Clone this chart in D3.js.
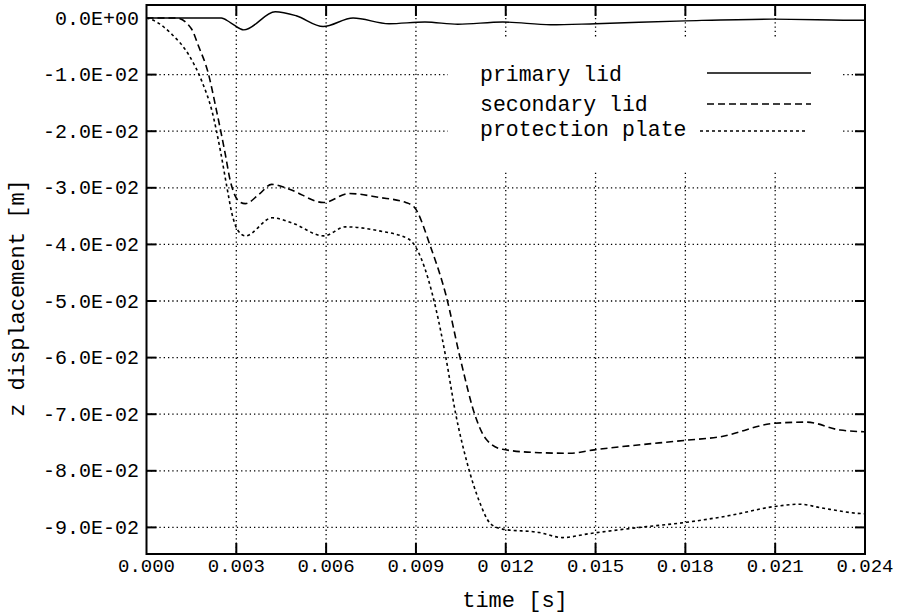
<!DOCTYPE html>
<html>
<head>
<meta charset="utf-8">
<script src="https://cdn.jsdelivr.net/npm/d3@7"></script>
<style>
  body { margin: 0; background: #fff; }
  text { font-family: "Liberation Mono", "DejaVu Sans Mono", monospace; fill: #000; }
</style>
</head>
<body>
<div id="chart"></div>
<script>
// axis ticks and labels
const timeTicks = [0, 0.003, 0.006, 0.009, 0.012, 0.015, 0.018, 0.021, 0.024];
const timeLabels = ["0.000", "0.003", "0.006", "0.009", "0 012", "0.015", "0.018", "0.021", "0.024"];
const dispTicks = [0, -0.01, -0.02, -0.03, -0.04, -0.05, -0.06, -0.07, -0.08, -0.09];
const dispLabels = ["0.0E+00", "-1.0E-02", "-2.0E-02", "-3.0E-02", "-4.0E-02",
                    "-5.0E-02", "-6.0E-02", "-7.0E-02", "-8.0E-02", "-9.0E-02"];

const seriesNames = ["primary lid", "secondary lid", "protection plate"];

// [time s, z displacement m]
const primaryLid = [
  [0, 0], [0.0025, 0], [0.0028, -0.0008], [0.00325, -0.0021], [0.0043, 0.0011],
  [0.0050, 0.0004], [0.0059, -0.0015], [0.0069, 0], [0.0081, -0.0010], [0.0093, -0.0007],
  [0.0104, -0.0011], [0.0119, -0.0007], [0.0135, -0.0012], [0.0150, -0.0010],
  [0.0180, -0.0005], [0.0209, -0.0002], [0.0239, -0.0004], [0.024, -0.0004]
];
const secondaryLid = [
  [0, 0], [0.0010, 0], [0.0015, -0.0019], [0.00174, -0.0050], [0.00205, -0.0095],
  [0.00234, -0.0164], [0.00263, -0.0240], [0.00280, -0.0288], [0.00295, -0.0313],
  [0.00312, -0.0325], [0.00330, -0.0328], [0.00375, -0.0312], [0.00418, -0.0294],
  [0.00475, -0.0302], [0.00592, -0.0326], [0.00676, -0.0310], [0.00777, -0.0317],
  [0.00866, -0.0326], [0.00894, -0.0334], [0.00950, -0.0406], [0.01000, -0.0489],
  [0.01050, -0.0606], [0.01100, -0.0706], [0.01134, -0.0744], [0.01189, -0.0762],
  [0.01312, -0.0768], [0.01413, -0.0769], [0.01496, -0.0763], [0.01803, -0.0746],
  [0.01915, -0.0740], [0.02099, -0.0716], [0.02205, -0.0714], [0.02317, -0.0728],
  [0.02400, -0.0731]
];
const protectionPlate = [
  [0, 0], [0.00018, -0.0003], [0.00085, -0.0029], [0.00141, -0.0065], [0.00185, -0.0112],
  [0.00219, -0.0165], [0.00247, -0.0235], [0.00269, -0.0300], [0.00286, -0.0347],
  [0.00305, -0.0375], [0.00330, -0.0385], [0.00420, -0.0353], [0.00486, -0.0362],
  [0.00592, -0.0385], [0.00665, -0.0369], [0.00777, -0.0376], [0.00877, -0.0391],
  [0.00916, -0.0423], [0.00966, -0.0512], [0.01000, -0.0600], [0.01033, -0.0700],
  [0.01072, -0.0788], [0.01111, -0.0853], [0.01150, -0.0894], [0.01189, -0.0903],
  [0.01312, -0.0909], [0.01390, -0.0918], [0.01479, -0.0911], [0.01647, -0.0900],
  [0.01803, -0.0891], [0.01948, -0.0879], [0.02099, -0.0863], [0.02183, -0.0859],
  [0.02249, -0.0865], [0.02372, -0.0875], [0.02400, -0.0876]
];

(function () {
  const width = 901, height = 616;
  const pl = 146.5, pr = 865, pt = 5, pb = 554;   // plot frame edges

  const svg = d3.select("#chart").append("svg")
    .attr("width", width)
    .attr("height", height);

  const x = d3.scaleLinear().domain([0, 0.024]).range([pl, pr]);
  const y = d3.scaleLinear().domain([-0.0947, 0.0023]).range([pb, pt]);

  // dotted grid
  const grid = svg.append("g")
    .attr("stroke", "#000")
    .attr("stroke-width", 1.3)
    .attr("stroke-dasharray", "1.3,3");

  grid.selectAll(".vg")
    .data(timeTicks.slice(1, -1))
    .join("line")
    .attr("x1", d => x(d)).attr("x2", d => x(d))
    .attr("y1", pt).attr("y2", pb);

  grid.selectAll(".hg")
    .data(dispTicks.slice(1))
    .join("line")
    .attr("x1", pl).attr("x2", pr)
    .attr("y1", d => y(d)).attr("y2", d => y(d));

  // legend sits on a white patch that hides the grid
  svg.append("rect")
    .attr("x", 448).attr("y", 37)
    .attr("width", 395).attr("height", 133)
    .attr("fill", "#fff");

  const styles = [
    { dash: null, w: 1.4 },
    { dash: "7,4", w: 1.6 },
    { dash: "3,3", w: 1.6 }
  ];

  const line = d3.line()
    .x(d => x(d[0]))
    .y(d => y(d[1]))
    .curve(d3.curveMonotoneX);

  [primaryLid, secondaryLid, protectionPlate].forEach((s, i) => {
    svg.append("path")
      .datum(s)
      .attr("d", line)
      .attr("fill", "none")
      .attr("stroke", "#000")
      .attr("stroke-width", styles[i].w)
      .attr("stroke-dasharray", styles[i].dash);
  });

  // legend
  const legY = [73, 104, 131];
  const legBase = [81, 111, 136];
  seriesNames.forEach((name, i) => {
    svg.append("text")
      .attr("x", 480)
      .attr("y", legBase[i])
      .style("font-size", "21.5px")
      .text(name);
    svg.append("line")
      .attr("x1", i === 2 ? 700 : 707).attr("x2", i === 2 ? 806 : 811)
      .attr("y1", legY[i]).attr("y2", legY[i])
      .attr("stroke", "#000")
      .attr("stroke-width", styles[i].w)
      .attr("stroke-dasharray", styles[i].dash);
  });

  // inward ticks on all four sides
  const ticks = svg.append("g").attr("stroke", "#000").attr("stroke-width", 2);
  timeTicks.slice(1, -1).forEach(t => {
    ticks.append("line").attr("x1", x(t)).attr("x2", x(t)).attr("y1", pb).attr("y2", pb - 11);
    ticks.append("line").attr("x1", x(t)).attr("x2", x(t)).attr("y1", pt).attr("y2", pt + 11);
  });
  dispTicks.slice(1).forEach(v => {
    ticks.append("line").attr("x1", pl).attr("x2", pl + 10).attr("y1", y(v)).attr("y2", y(v));
    ticks.append("line").attr("x1", pr).attr("x2", pr - 10).attr("y1", y(v)).attr("y2", y(v));
  });

  // frame
  svg.append("rect")
    .attr("x", pl).attr("y", pt)
    .attr("width", pr - pl).attr("height", pb - pt)
    .attr("fill", "none")
    .attr("stroke", "#000")
    .attr("stroke-width", 2);

  // tick labels
  svg.selectAll(".xl")
    .data(timeTicks)
    .join("text")
    .attr("x", d => x(d))
    .attr("y", pb + 18)
    .attr("text-anchor", "middle")
    .style("font-size", "19px")
    .text((d, i) => timeLabels[i]);

  svg.selectAll(".yl")
    .data(dispTicks)
    .join("text")
    .attr("x", 139)
    .attr("y", d => y(d) + 6.5)
    .attr("text-anchor", "end")
    .style("font-size", "20px")
    .text((d, i) => dispLabels[i]);

  // axis titles
  svg.append("text")
    .attr("x", 515)
    .attr("y", 607)
    .attr("text-anchor", "middle")
    .style("font-size", "22px")
    .text("time [s]");

  svg.append("text")
    .attr("transform", "translate(23.5,298) rotate(-90)")
    .attr("text-anchor", "middle")
    .style("font-size", "22px")
    .text("z displacement [m]");
})();
</script>
</body>
</html>
